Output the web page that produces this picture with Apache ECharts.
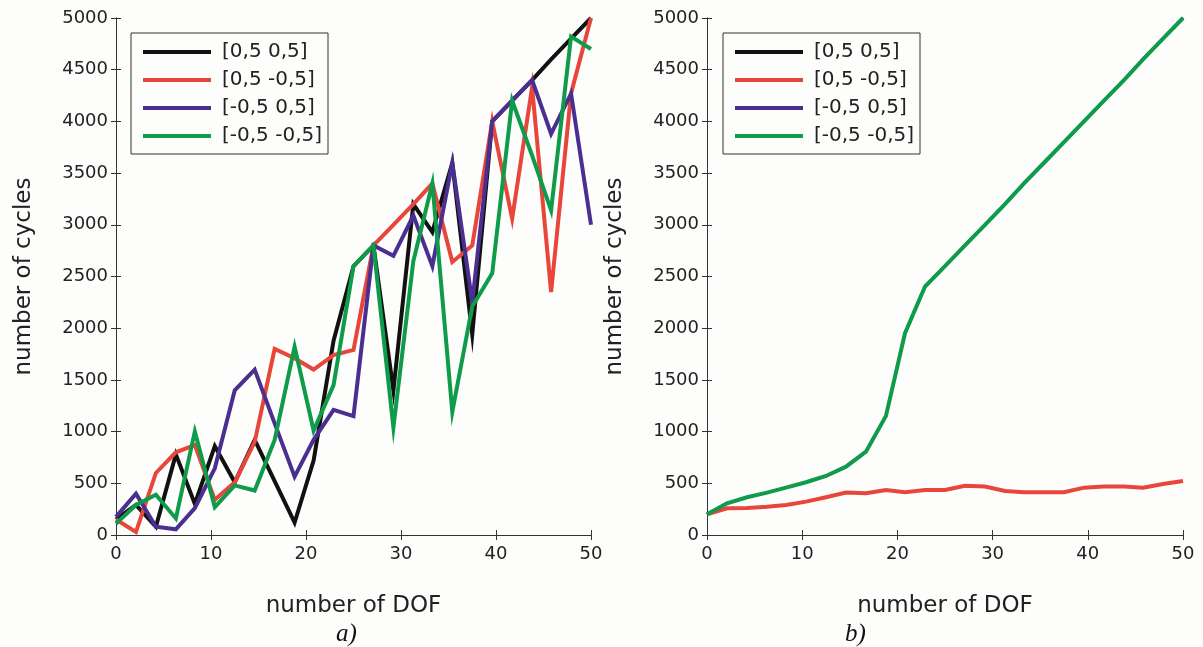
<!DOCTYPE html>
<html>
<head>
<meta charset="utf-8">
<script src="https://cdn.jsdelivr.net/npm/echarts@6/dist/echarts.min.js"></script>
<style>
html,body{margin:0;padding:0;background:#fdfdfb;}
#chart{width:1203px;height:647px;}
</style>
</head>
<body>
<div id="chart"></div>
<script>
// number of DOF (x positions of samples)
var dof = [0, 2.1, 4.2, 6.3, 8.3, 10.4, 12.5, 14.6, 16.7, 18.8, 20.8, 22.9, 25, 27.1, 29.2, 31.3, 33.3, 35.4, 37.5, 39.6, 41.7, 43.8, 45.8, 47.9, 50];
var seriesNames = ['[0,5 0,5]', '[0,5 -0,5]', '[-0,5 0,5]', '[-0,5 -0,5]'];
var xTicks = [0, 10, 20, 30, 40, 50];
var yTicks = [0, 500, 1000, 1500, 2000, 2500, 3000, 3500, 4000, 4500, 5000];

// panel a)
var aBlack  = [150, 290, 80, 780, 300, 860, 510, 920, 520, 120, 720, 1880, 2600, 2800, 1400, 3200, 2930, 3600, 1940, 4000, 4200, 4400, 4600, 4800, 5000];
var aRed    = [150, 30, 600, 800, 870, 340, 510, 900, 1800, 1710, 1600, 1740, 1790, 2800, 3000, 3200, 3400, 2640, 2800, 4000, 3060, 4330, 2350, 4270, 5000];
var aPurple = [175, 400, 80, 55, 260, 645, 1400, 1600, 1080, 565, 920, 1210, 1150, 2800, 2700, 3090, 2600, 3600, 2250, 4000, 4200, 4400, 3880, 4270, 3000];
var aGreen  = [110, 290, 390, 160, 1000, 270, 480, 430, 920, 1820, 1010, 1450, 2600, 2800, 1040, 2650, 3400, 1190, 2210, 2530, 4200, 3670, 3140, 4820, 4700];

// panel b)
var bBlack  = [200, 306, 365, 410, 458, 510, 571, 661, 806, 1152, 1952, 2403, 2600, 2800, 3000, 3200, 3400, 3600, 3800, 4000, 4200, 4400, 4600, 4800, 5000];
var bRed    = [200, 258, 262, 274, 290, 323, 365, 410, 403, 435, 413, 435, 435, 477, 468, 426, 413, 413, 413, 458, 468, 468, 458, 494, 523];
var bPurple = [200, 306, 365, 410, 458, 510, 571, 661, 806, 1152, 1952, 2403, 2600, 2800, 3000, 3200, 3400, 3600, 3800, 4000, 4200, 4400, 4600, 4800, 5000];
var bGreen  = [200, 306, 365, 410, 458, 510, 571, 661, 806, 1152, 1952, 2403, 2600, 2800, 3000, 3200, 3400, 3600, 3800, 4000, 4200, 4400, 4600, 4800, 5000];

var colors = ['#111111', '#e8463b', '#4a2f90', '#0e9b4a'];
var FONT = 'DejaVu Sans';

function pairs(vals){ return vals.map(function(v,i){ return [dof[i], v]; }); }

function xAxes(g){
  var base = {
    type:'value', gridIndex:g, min:xTicks[0], max:xTicks[xTicks.length-1], interval:xTicks[1]-xTicks[0],
    splitLine:{show:false},
    axisLine:{show:true, lineStyle:{color:'#333', width:1}},
    axisTick:{show:true, inside:true, length:5, lineStyle:{color:'#333'}}
  };
  var bottom = Object.assign({}, base, {
    position:'bottom',
    name:'number of DOF', nameLocation:'middle', nameGap:60,
    nameTextStyle:{fontFamily:FONT, fontSize:23, color:'#222'},
    axisLabel:{fontFamily:FONT, fontSize:18, color:'#222', margin:10, formatter:function(v){ return String(v); }}
  });
  var top = Object.assign({}, base, {position:'top', axisLabel:{show:false}});
  return [bottom, top];
}
function yAxes(g){
  var base = {
    type:'value', gridIndex:g, min:yTicks[0], max:yTicks[yTicks.length-1], interval:yTicks[1]-yTicks[0],
    splitLine:{show:false},
    axisLine:{show:true, lineStyle:{color:'#333', width:1}},
    axisTick:{show:true, inside:true, length:5, lineStyle:{color:'#333'}}
  };
  var left = Object.assign({}, base, {
    position:'left',
    name:'number of cycles', nameLocation:'middle', nameGap:80,
    nameTextStyle:{fontFamily:FONT, fontSize:23, color:'#222'},
    axisLabel:{fontFamily:FONT, fontSize:18, color:'#222', margin:8, formatter:function(v){ return String(v); }}
  });
  var right = Object.assign({}, base, {position:'right', axisLabel:{show:false}});
  return [left, right];
}

function legend(left){
  return {
    orient:'vertical', left:left, top:33,
    data:seriesNames,
    icon:'rect', itemWidth:68, itemHeight:4, itemGap:8,
    borderColor:'#333', borderWidth:1, backgroundColor:'#fdfdfb',
    padding:[9,6,8,12],
    textStyle:{fontFamily:FONT, fontSize:20, color:'#222', lineHeight:20, padding:[0,0,0,6]}
  };
}

function lines(sets, xi, yi, widths){
  return sets.map(function(vals, k){
    return {
      type:'line', name:seriesNames[k], xAxisIndex:xi, yAxisIndex:yi,
      data:pairs(vals), showSymbol:false, symbol:'none',
      lineStyle:{width:widths[k], color:colors[k], join:'miter'},
      itemStyle:{color:colors[k]},
      animation:false, silent:true, z:2+k
    };
  });
}

var xa = xAxes(0).concat(xAxes(1));
var ya = yAxes(0).concat(yAxes(1));

var option = {
  backgroundColor:'#fdfdfb',
  animation:false,
  color:colors,
  title:[
    {text:'a)', left:336, top:622, padding:0, textStyle:{fontFamily:'Liberation Serif', fontStyle:'italic', fontWeight:'normal', fontSize:25, color:'#111'}},
    {text:'b)', left:845, top:622, padding:0, textStyle:{fontFamily:'Liberation Serif', fontStyle:'italic', fontWeight:'normal', fontSize:25, color:'#111'}}
  ],
  grid:[
    {left:116, top:18, width:475, height:517},
    {left:707, top:18, width:476, height:517}
  ],
  legend:[legend(131), legend(723)],
  xAxis:xa,
  yAxis:ya,
  series:[].concat(
    lines([aBlack, aRed, aPurple, aGreen], 0, 0, [4, 4, 4, 4]),
    lines([bBlack, bRed, bPurple, bGreen], 2, 2, [2.5, 4, 2.5, 4])
  )
};

var chart = echarts.init(document.getElementById('chart'), null, {renderer:'canvas'});
chart.setOption(option);
</script>
</body>
</html>
